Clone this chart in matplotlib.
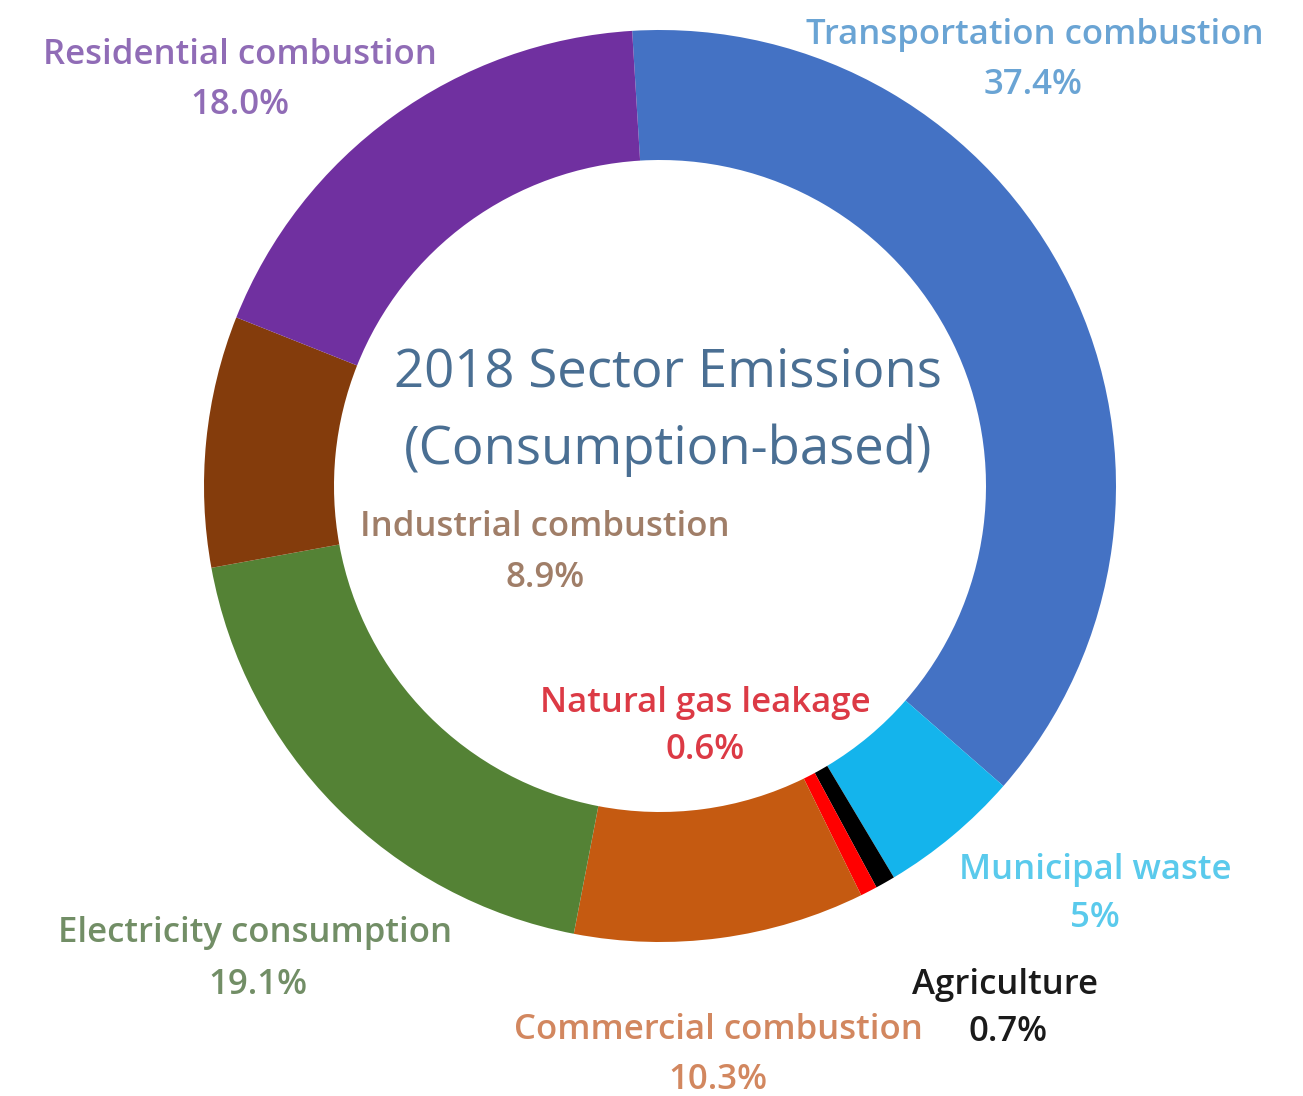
import matplotlib.pyplot as plt

sectors = ['Transportation combustion', 'Municipal waste', 'Agriculture', 'Natural gas leakage',
           'Commercial combustion', 'Electricity consumption', 'Industrial combustion',
           'Residential combustion']
shares = [37.4, 5.0, 0.7, 0.6, 10.3, 19.1, 8.9, 18.0]
share_labels = ['37.4%', '5%', '0.7%', '0.6%', '10.3%', '19.1%', '8.9%', '18.0%']

wedge_colors = ['#4472C4', '#14B4EC', '#000000', '#FF0000', '#C55A11', '#548235', '#843C0C', '#7030A0']
text_colors = ['#6AA4D4', '#5ACAEC', '#1a1a1a', '#DC3A45', '#D2875F', '#728E66', '#A07E68', '#906CB6']

# label centres in pixels (x, y from top) for name line and value line
name_pos = [(1035, 35), (1095, 870), (1005, 985), (705, 703), (718, 1030), (255, 933), (545, 527), (240, 55)]
val_pos = [(1033, 85), (1095, 918), (1008, 1032), (705, 750), (718, 1080), (258, 985), (545, 578), (240, 105)]

W, H = 1303, 1096
fig = plt.figure(figsize=(W / 100, H / 100), dpi=100)
ax = fig.add_axes([0, 0, 1, 1])

ax.pie(shares, colors=wedge_colors, startangle=93.5, counterclock=False,
       center=(660, H - 486), radius=456, frame=True,
       wedgeprops=dict(width=130, edgecolor='none'))
ax.set_xlim(0, W)
ax.set_ylim(0, H)
ax.set_aspect('equal')
ax.axis('off')

plt.rcParams['font.family'] = ['Open Sans', 'DejaVu Sans']
for i in range(len(sectors)):
    ax.text(name_pos[i][0], H - name_pos[i][1], sectors[i], color=text_colors[i],
            fontsize=25, ha='center', va='center', fontweight='semibold')
    ax.text(val_pos[i][0], H - val_pos[i][1], share_labels[i], color=text_colors[i],
            fontsize=25, ha='center', va='center', fontweight='semibold')

ax.text(668, H - 373, '2018 Sector Emissions', color='#4A6F93', fontsize=38,
        ha='center', va='center')
ax.text(668, H - 450, '(Consumption-based)', color='#4A6F93', fontsize=38,
        ha='center', va='center')

fig.savefig('out.png', dpi=100, facecolor='white')
